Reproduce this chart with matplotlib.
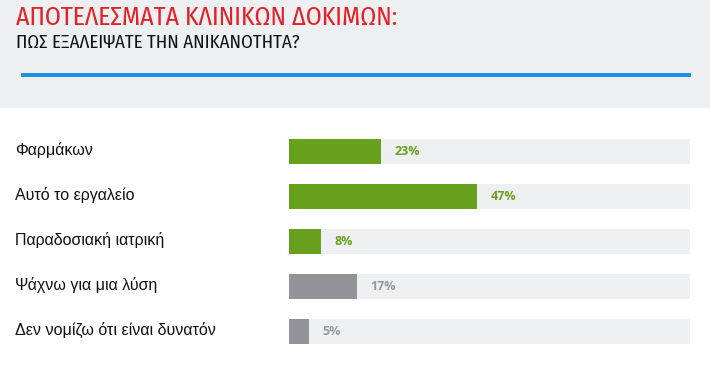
#!/usr/bin/env python3
"""Clinical trial results: horizontal percent bars on grey tracks."""
import matplotlib
matplotlib.use("Agg")
import matplotlib.pyplot as plt
from matplotlib.patches import Rectangle
from matplotlib.transforms import blended_transform_factory

TITLE = "ΑΠΟΤΕΛΕΣΜΑΤΑ ΚΛΙΝΙΚΩΝ ΔΟΚΙΜΩΝ:"
SUBTITLE = "ΠΩΣ ΕΞΑΛΕΙΨΑΤΕ ΤΗΝ ΑΝΙΚΑΝΟΤΗΤΑ?"
categories = ["Φαρμάκων", "Αυτό το εργαλείο", "Παραδοσιακή ιατρική",
              "Ψάχνω για μια λύση", "Δεν νομίζω ότι είναι δυνατόν"]
values = [23, 47, 8, 17, 5]
highlight = [True, True, True, False, False]

GREEN = "#67a01d"
GREY = "#939397"
TRACK = "#eeeff1"
HEADER = "#eeeff0"
W, H = 710, 382

fig = plt.figure(figsize=(W / 100, H / 100), dpi=100, facecolor="white")

# header block
fig.patches.append(Rectangle((0, 1 - 108 / H), 1, 108 / H, transform=fig.transFigure,
                             facecolor=HEADER, edgecolor="none", zorder=0))
fig.patches.append(Rectangle((21 / W, 1 - 77 / H), 670 / W, 4 / H, transform=fig.transFigure,
                             facecolor="#1e8fe1", edgecolor="none", zorder=1))
narrow = ["Fira Sans Condensed", "DejaVu Sans"]
fig.text(16 / W, 1 - 17.5 / H, TITLE, color="#e32128", fontsize=18.5, family=narrow,
         fontstretch="condensed", fontweight="normal", va="center", ha="left")
fig.text(16 / W, 1 - 42.5 / H, SUBTITLE, color="#111111", fontsize=13.6, family=narrow,
         fontstretch="condensed", va="center", ha="left")

# bars: 100% spans the whole track
ax = fig.add_axes([289 / W, 1 - 354 / H, 401 / W, 225 / H])
ax.set_xlim(0, 100)
ax.set_ylim(len(values) - 0.5, -0.5)
ax.axis("off")
ypos = list(range(len(values)))
colors = [GREEN if h else GREY for h in highlight]
ax.barh(ypos, [100] * len(values), height=0.556, left=0, color=TRACK, zorder=1)
ax.barh(ypos, values, height=0.556, color=colors, zorder=2)

for y, v, h in zip(ypos, values, highlight):
    ax.annotate(f"{v}%", (v, y), xytext=(9.5, 0), textcoords="offset points",
                va="center", ha="left", fontsize=9, fontweight="bold",
                family=["Open Sans", "DejaVu Sans"],
                color="#6a9f1e" if h else "#999999")

trans = blended_transform_factory(fig.transFigure, ax.transData)
for y, name in zip(ypos, categories):
    fig.text(15 / W, y - 0.03, name, transform=trans, va="center", ha="left",
             fontsize=11.5, family=["Liberation Sans", "DejaVu Sans"], color="#111111")

fig.savefig("out.png", dpi=100, facecolor="white")
